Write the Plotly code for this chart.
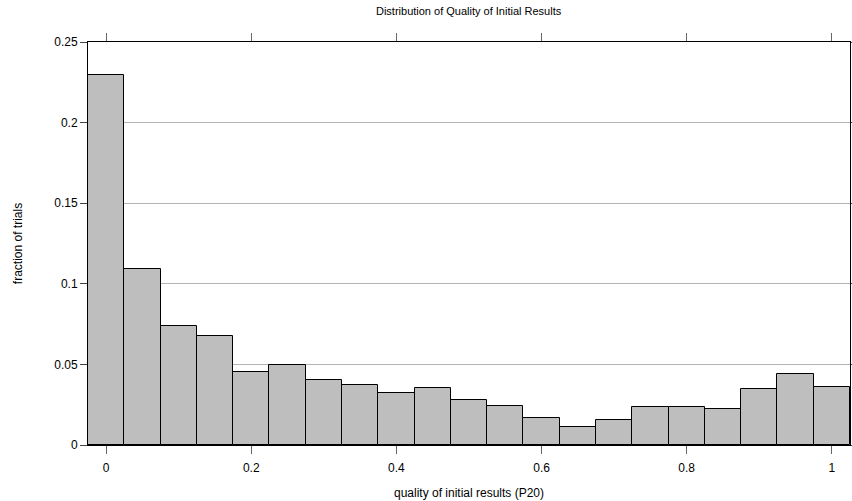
import plotly.graph_objects as go

bin_centers = [0.0, 0.05, 0.10, 0.15, 0.20, 0.25, 0.30, 0.35, 0.40, 0.45, 0.50,
               0.55, 0.60, 0.65, 0.70, 0.75, 0.80, 0.85, 0.90, 0.95, 1.00]
fractions = [0.2295, 0.1089, 0.0740, 0.0678, 0.0450, 0.0494, 0.0405, 0.0372,
             0.0323, 0.0354, 0.0279, 0.0244, 0.0169, 0.0109, 0.0155, 0.0238,
             0.0238, 0.0225, 0.0349, 0.0438, 0.0357]
x_ticks = [0, 0.2, 0.4, 0.6, 0.8, 1]
x_tick_labels = ["0", "0.2", "0.4", "0.6", "0.8", "1"]
y_ticks = [0, 0.05, 0.1, 0.15, 0.2, 0.25]
y_tick_labels = ["0", "0.05", "0.1", "0.15", "0.2", "0.25"]

fig = go.Figure(go.Bar(
    x=bin_centers, y=fractions, width=0.05,
    marker=dict(color="#bebebe", line=dict(color="black", width=1)),
))

font = "Liberation Sans, Arial, sans-serif"
fig.update_layout(
    width=852, height=501,
    margin=dict(l=88, r=2, t=42, b=56, autoexpand=False),
    paper_bgcolor="white", plot_bgcolor="white",
    showlegend=False,
    font=dict(family=font, size=12, color="black"),
    title=dict(text="Distribution of Quality of Initial Results",
               font=dict(size=11, color="black"), x=0.55, xanchor="center",
               y=0.978, yanchor="middle"),
    bargap=0,
)
fig.update_xaxes(
    range=[-0.025, 1.025], tickvals=x_ticks, ticktext=x_tick_labels,
    showgrid=False, zeroline=False,
    showline=True, linecolor="black", linewidth=1, mirror="ticks",
    ticks="outside", ticklen=8, tickcolor="#666666", tickwidth=1,
    ticklabelstandoff=4,
    title=dict(text="quality of initial results (P20)", standoff=14, font=dict(size=12)),
)
fig.update_yaxes(
    range=[0, 0.25], tickvals=y_ticks, ticktext=y_tick_labels,
    showgrid=True, gridcolor="#b4b4b4", gridwidth=1, zeroline=False,
    showline=True, linecolor="black", linewidth=1, mirror="ticks",
    ticks="outside", ticklen=7, tickcolor="#444444", tickwidth=1,
    title=dict(text="fraction of trials", standoff=29, font=dict(size=12)),
)

fig.write_html("out.html", config={"displayModeBar": False},
               post_script="document.body.style.margin='0';document.body.style.overflow='hidden';")
